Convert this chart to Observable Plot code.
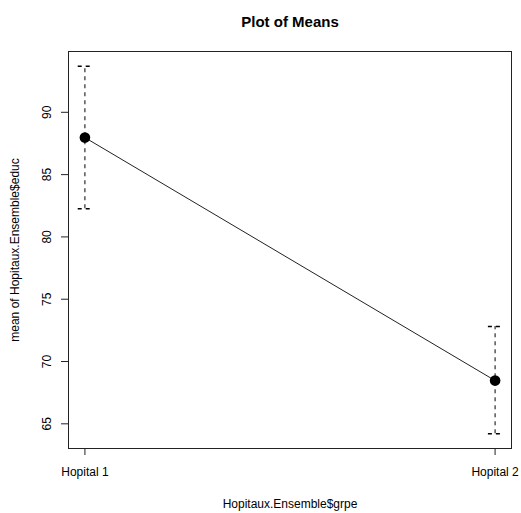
<!DOCTYPE html>
<html>
<head>
<meta charset="utf-8">
<script src="https://cdn.jsdelivr.net/npm/d3@7"></script>
<script src="https://cdn.jsdelivr.net/npm/@observablehq/plot@0.6"></script>
<style>
  html, body { margin: 0; padding: 0; background: white; }
</style>
</head>
<body>
<div id="chart"></div>
<script>
// Group means of educ with their confidence limits
const groups = ["Hopital 1", "Hopital 2"];
const means = [87.97, 68.47];
const lower = [82.26, 64.2];
const upper = [93.7, 72.81];
const yTicks = [65, 70, 75, 80, 85, 90];

const title = "Plot of Means";
const xLabel = "Hopitaux.Ensemble$grpe";
const yLabel = "mean of Hopitaux.Ensemble$educ";

const data = groups.map((g, i) => ({pos: i + 1, group: g, mean: means[i], lo: lower[i], hi: upper[i]}));

// R-style axis ranges: data range widened by 4% on each side
function rRange(lo, hi) {
  const pad = 0.04 * (hi - lo);
  return [lo - pad, hi + pad];
}
const xDomain = rRange(1, groups.length);
const yDomain = rRange(d3.min(lower), d3.max(upper));

// horizontal bar used as the end cap of an error bar
const capSymbol = {
  draw(context, size) {
    const w = Math.sqrt(size / Math.PI);
    context.moveTo(-w, 0);
    context.lineTo(w, 0);
  }
};

const chart = Plot.plot({
  width: 521,
  height: 513,
  marginLeft: 68,
  marginRight: 10,
  marginTop: 51,
  marginBottom: 65,
  style: {fontFamily: "'Liberation Sans', Arial, sans-serif", fontSize: "12px", color: "black", background: "white"},
  x: {type: "linear", domain: xDomain},
  y: {type: "linear", domain: yDomain},
  marks: [
    Plot.frame({stroke: "#222"}),
    Plot.axisX({ticks: data.map(d => d.pos), tickFormat: p => groups[p - 1], tickSize: 7, tickPadding: 12, label: null, stroke: "#222"}),
    Plot.axisY({ticks: yTicks, tickFormat: () => "", tickSize: 7, label: null, stroke: "#222"}),
    Plot.text(yTicks, {y: d => d, text: d => String(d), frameAnchor: "left", textAnchor: "middle", rotate: -90, dx: -18, lineAnchor: "bottom", fill: "black"}),
    Plot.text([yLabel], {frameAnchor: "left", textAnchor: "middle", rotate: -90, dx: -50, lineAnchor: "bottom", fill: "black"}),
    Plot.text([xLabel], {frameAnchor: "bottom", dy: 59, lineAnchor: "bottom", fill: "black"}),
    Plot.text([title], {frameAnchor: "top", dy: -25, lineAnchor: "bottom", fontWeight: "bold", fontSize: 15, fill: "black"}),
    Plot.ruleX(data, {x: "pos", y1: "lo", y2: "hi", stroke: "black", strokeDasharray: "4,4"}),
    Plot.dot(data, {x: "pos", y: "hi", symbol: capSymbol, r: 7.2, stroke: "black", fill: "none", strokeDasharray: "4,4"}),
    Plot.dot(data, {x: "pos", y: "lo", symbol: capSymbol, r: 7.2, stroke: "black", fill: "none", strokeDasharray: "4,4"}),
    Plot.line(data, {x: "pos", y: "mean", stroke: "#222", strokeWidth: 1}),
    Plot.dot(data, {x: "pos", y: "mean", r: 5.3, fill: "black", stroke: "none"})
  ]
});

document.getElementById("chart").appendChild(chart);
</script>
</body>
</html>
